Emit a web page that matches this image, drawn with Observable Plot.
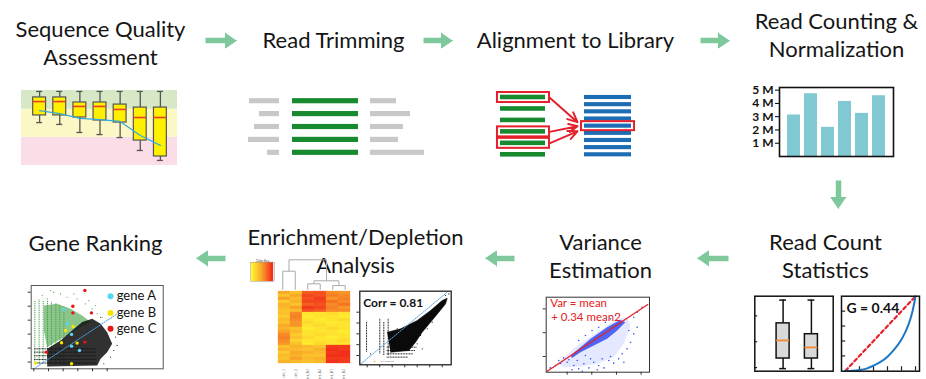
<!DOCTYPE html>
<html><head><meta charset="utf-8">
<script src="https://cdn.jsdelivr.net/npm/d3@7"></script>
<script src="https://cdn.jsdelivr.net/npm/@observablehq/plot@0.6"></script>
<style>
body{margin:0;background:#fff;}
#stage{position:relative;width:926px;height:379px;overflow:hidden;background:#fff;}
.panel{position:absolute;}
.panel svg{background:transparent !important;overflow:visible;}
</style></head><body><div id="stage"></div>
<script>
// ================= DATA =================
const steps = ["Sequence Quality\nAssessment","Read Trimming","Alignment to Library","Read Counting &\nNormalization","Read Count\nStatistics","Variance\nEstimation","Enrichment/Depletion\nAnalysis","Gene Ranking"];
const flow = [[0,1],[1,2],[2,3],[3,4],[4,5],[5,6],[6,7]];

// Sequence quality (Phred) per read-position bin
const qcPositions = [1,2,3,4,5,6,7];
const qcLow    = [22.9,21.9,17.6,16.5,14.9,8.0,2.7];
const qcQ1     = [26.7,26.7,25.6,24.0,22.9,13.3,4.8];
const qcMedian = [34.1,34.1,31.5,31.5,29.9,25.6,25.6];
const qcQ3     = [36.3,36.3,33.6,33.6,32.5,30.9,30.9];
const qcHigh   = [39.5,39.5,39.5,39.5,39.5,39.5,39.5];
const qcMean   = [29.3,27.7,25.1,24.5,23.5,16.0,10.7];
const qcBandLimits = [0,15,30,40];

// Read trimming (bases)
const trimLeft  = [30,20,25,31,12];
const trimRight = [26,40,33,28,54];
const coreLength = 66;

// Alignment
const readCount = 6, libraryCount = 9;
const alignedReads = [0,3,4];
const alignedTarget = 4;

// Read counts per sample
const samples = ["S1","S2","S3","S4","S5","S6"];
const sampleReads = [3.13e6,4.73e6,2.2e6,4.15e6,3.25e6,4.58e6];
const countTicks = [1e6,2e6,3e6,4e6,5e6];

// Read count statistics boxplots
const statGroups = [1,2];
const statLow = [-0.04,-0.04], statQ1 = [0.35,0.35], statMedian = [1.05,0.78], statQ3 = [1.71,1.29], statHigh = [2.61,2.61];
const statTicks = [0,1,2];

// Lorenz curve
const lorenzX = [0,0.1,0.2,0.3,0.4,0.5,0.6,0.7,0.8,0.9,0.95,1];
const lorenzY = [0,0.0,0.01,0.03,0.07,0.12,0.19,0.29,0.42,0.62,0.77,1];
const gini = 0.44;

// Variance estimation (log10 mean vs log10 variance)
const varFit = [[0.19,0.38],[4.27,3.18]];
const varDense = [[1.14,1.04],[1.95,1.74],[2.62,2.23],[3.16,2.54],[3.36,2.44],[3.03,2.09],[2.62,1.74],[2.08,1.46],[1.54,1.18],[1.2,0.94]];
const varHalo = [[0.59,0.69],[1.41,1.46],[2.22,2.02],[3.03,2.58],[3.43,2.65],[3.57,2.3],[3.3,1.53],[2.89,0.97],[2.22,0.69],[1.54,0.58],[0.86,0.55]];
const varPoints = [[0.32,0.52],[0.53,0.62],[0.73,0.72],[1.0,0.76],[1.27,0.62],[1.47,0.48],[1.68,0.69],[1.88,0.52],[2.08,0.76],[2.28,0.62],[2.49,0.52],[2.69,0.83],[2.89,0.72],[3.09,0.9],[3.23,1.11],[3.43,1.32],[3.57,1.6],[3.7,1.95],[3.5,2.09],[3.84,2.23],[3.3,0.76],[2.76,1.0],[2.42,0.9],[1.95,0.9],[1.74,1.04],[1.41,0.83],[1.07,0.86],[0.86,0.94],[0.66,0.83],[2.22,0.44],[1.61,0.38],[1.2,0.44],[4.04,3.07],[3.84,2.86],[3.7,2.65],[2.96,2.72],[2.76,2.58],[2.55,2.44],[2.28,2.23],[2.01,2.09],[1.74,1.88],[1.47,1.67]];
const varTextLines = ["Var = mean","+ 0.34 mean2"];

// Enrichment heatmap (6 samples x 24 genes)
const heatSamples = ["ctrl_1","ctrl_2","trt_A1","trt_A2","trt_B1","trt_B2"];
const heatMatrix = [
 [0.45,0.3,0.8,0.85,0.6,0.55],[0.3,0.45,0.9,0.85,0.65,0.6],[0.5,0.35,0.85,0.95,0.55,0.65],[0.25,0.4,0.9,0.9,0.7,0.6],
 [0.4,0.3,0.8,0.85,0.6,0.7],[0.35,0.5,0.95,0.9,0.65,0.55],[0.3,0.35,0.85,0.8,0.6,0.6],
 [0.3,0.6,0.1,0.1,0.15,0.1],[0.25,0.65,0.05,0.1,0.1,0.05],[0.35,0.6,0.1,0.05,0.1,0.15],[0.3,0.55,0.15,0.1,0.05,0.1],
 [0.45,0.55,0.1,0.15,0.1,0.1],[0.4,0.3,0.05,0.1,0.15,0.1],[0.5,0.35,0.1,0.1,0.1,0.05],
 [0.6,0.25,0.1,0.15,0.1,0.1],[0.65,0.3,0.15,0.1,0.05,0.1],[0.6,0.2,0.1,0.1,0.1,0.15],[0.55,0.3,0.05,0.15,0.1,0.1],
 [0.3,0.4,0.35,0.3,0.95,0.95],[0.4,0.35,0.3,0.4,1,0.95],[0.25,0.45,0.4,0.35,0.95,1],[0.35,0.4,0.3,0.3,1,1],
 [0.3,0.5,0.35,0.4,0.95,0.95],[0.4,0.35,0.3,0.35,1,0.95]];
const keyValues = [0,0.1,0.2,0.3,0.4,0.5,0.6,0.7,0.8,0.9,1];
const dendro = {h:1.0, children:[{h:0.62, children:[0,1]}, {h:0.3, children:[{h:0.2, children:[2,3]}, {h:0.14, children:[4,5]}]}]};

// Replicate correlation
const corrValue = 0.81;
const corrDense = [[1.6,2.15],[2.67,2.46],[4.0,3.23],[5.07,4.15],[6.0,5.08],[6.4,5.29],[6.27,4.77],[5.73,4.0],[5.07,3.08],[4.4,2.15],[3.87,1.23],[3.33,0.46],[1.87,0.31]];
const corrColumns = [[-0.05,0.31,3.08],[1.01,0.15,3.38],[1.33,0,3.08],[1.68,0,3.38]]; // x, yLow, yHigh
const corrRows = [[0.77,1.6,4.0],[0.46,1.6,3.9],[0.15,1.6,3.7],[-0.15,1.6,3.3]]; // y, xLow, xHigh
const corrPoints = [[5.6,4.62],[5.87,4.92],[4.8,3.54],[4.27,3.38],[3.73,2.77],[3.33,2.31],[2.93,2.15],[2.4,2.46],[2.0,2.0],[5.2,3.08],[4.8,2.46],[4.27,1.85],[4.0,1.08],[4.4,0.62],[5.73,4.15],[6.27,5.54],[6.53,5.69],[0.27,0.15],[2.27,0.62]];
const corrDiag = [[-0.53,-0.8],[6.4,5.85]];

// Gene ranking
const geneNames = ["gene A","gene B","gene C"];
const genePoints = [
 [[2.05,3.76],[2.27,2.74],[2.57,1.98],[2.57,1.14],[3.11,0.83]],
 [[2.16,2.26],[2.68,2.55],[1.89,1.38],[2.95,1.36],[2.57,-0.12],[0.11,-0.07]],
 [[3.48,5.12],[2.66,4.0],[2.66,3.52],[3.93,3.52],[3.48,1.43],[0.84,0.71]]];
const rankGreenStripes = [[0.07,4.4],[0.36,4.45],[0.64,4.36],[0.93,4.4],[1.2,4.29],[1.5,4.17],[1.77,4.05],[2.05,3.93]];
const rankGreenDense = [[0.68,4.05],[1.59,4.17],[2.5,3.81],[3.3,3.33],[3.86,2.86],[3.18,2.5],[2.27,1.9],[1.48,1.43],[0.91,1.07],[0.68,2.26]];
const rankBlackDense = [[0.91,0.95],[1.82,1.55],[2.61,2.26],[3.3,2.86],[3.98,3.1],[4.55,2.74],[5.0,2.14],[5.34,1.31],[5.0,0.71],[4.55,0.24],[4.32,-0.24],[0.91,-0.31]];
const rankBlackStripes = [0.95,0.71,0.45,0.19,-0.07];
const rankGreenSparse = [[1.14,5.12],[0.57,4.76],[1.82,4.88],[2.27,4.64],[2.95,4.52],[3.52,4.17],[3.98,3.81],[4.32,3.45],[4.66,3.21],[0.91,4.52],[1.36,5.0],[2.73,4.88],[3.75,4.4],[4.2,4.05]];
const rankBlackSparse = [[5.45,0.83],[5.57,1.79],[5.23,0.36],[4.77,-0.12],[5.68,1.19],[5.11,2.5],[4.55,3.21]];
const rankDiag = [[0,-0.48],[5.68,3.45]];

// ================= LAYOUT & STYLE =================
const FONT = "Lato, 'Open Sans', sans-serif";
const GREEN = "#7ec89b";
const L = {
  titles: [[100,64],[333,47],[575,47],[836,56],[825,277],[600,277],[355,272],[95,250]],
  arrows: [[205,40,236,40],[423,40,452,40],[700,40,729,40],[838,180,838,208],[728,258,697,258],[514,258,485,258],[225,258,196,258]],
};
const stage = document.getElementById("stage");
function place(plot, left, top) {
  const d = document.createElement("div");
  d.className = "panel";
  d.style.left = left + "px"; d.style.top = top + "px";
  d.style.width = plot.getAttribute("width") + "px";
  d.appendChild(plot); stage.appendChild(d);
}
const baseStyle = {background:"transparent", overflow:"visible", fontFamily: FONT};

// ================= BACKGROUND: titles and flow arrows =================
const titleRows = steps.map((t,i)=>({text:t, x:L.titles[i][0], y:L.titles[i][1]}));
const shafts = [], heads = [];
flow.forEach((f,i)=>{
  const [x1,y1,x2,y2] = L.arrows[i];
  const len = Math.hypot(x2-x1,y2-y1), ux=(x2-x1)/len, uy=(y2-y1)/len;
  const hl = 11, hw = 7.5;
  const bx = x2-ux*hl, by = y2-uy*hl;
  shafts.push({x1, y1, x2: bx+ux, y2: by+uy});
  heads.push({id:i, x:x2, y:y2}, {id:i, x:bx-uy*hw, y:by+ux*hw}, {id:i, x:bx+uy*hw, y:by-ux*hw});
});
place(Plot.plot({
  width:926, height:379, margin:0, style: baseStyle,
  x:{domain:[0,926], range:[0,926], axis:null},
  y:{domain:[0,379], range:[0,379], axis:null},
  marks:[
    Plot.link(shafts,{x1:"x1",y1:"y1",x2:"x2",y2:"y2",stroke:GREEN,strokeWidth:5.5,strokeLinecap:"butt"}),
    Plot.line(heads,{x:"x",y:"y",z:"id",fill:GREEN,stroke:GREEN,strokeWidth:1}),
    Plot.text(titleRows,{x:"x",y:"y",text:"text",fontSize:22,lineHeight:1.273,lineAnchor:"bottom",fill:"#151515",fontFamily:FONT})
  ]
}), 0, 0);

// ================= Panel: sequence quality =================
const qcRows = qcPositions.map((p,i)=>({pos:p, low:qcLow[i], q1:qcQ1[i], med:qcMedian[i], q3:qcQ3[i], high:qcHigh[i], mean:qcMean[i]}));
const qcX = [0.1,7.85];
const bandFills = ["#fbdde8","#fcf8c6","#d6e8c5"];
const qcBands = bandFills.map((f,i)=>({y1:qcBandLimits[i], y2:qcBandLimits[i+1], f}));
const bw = 0.32, cap = 0.15;
place(Plot.plot({
  width:162, height:81, marginLeft:3, marginRight:3, marginTop:4, marginBottom:2, style:baseStyle,
  x:{domain:qcX, axis:null}, y:{domain:[0,40], axis:null},
  marks:[
    ...qcBands.map(b=>Plot.rect([b],{x1:qcX[0],x2:qcX[1],y1:"y1",y2:"y2",fill:b.f})),
    Plot.ruleX(qcRows,{x:"pos",y1:"q3",y2:"high",stroke:"#555",strokeWidth:1.3}),
    Plot.ruleX(qcRows,{x:"pos",y1:"low",y2:"q1",stroke:"#555",strokeWidth:1.3}),
    Plot.ruleY(qcRows,{y:"high",x1:d=>d.pos-cap,x2:d=>d.pos+cap,stroke:"#555",strokeWidth:1.3}),
    Plot.ruleY(qcRows,{y:"low",x1:d=>d.pos-cap,x2:d=>d.pos+cap,stroke:"#555",strokeWidth:1.3}),
    Plot.rect(qcRows,{x1:d=>d.pos-bw,x2:d=>d.pos+bw,y1:"q1",y2:"q3",fill:"#fff000",stroke:"#555",strokeWidth:1.2}),
    Plot.ruleY(qcRows,{y:"med",x1:d=>d.pos-bw,x2:d=>d.pos+bw,stroke:"#e8402a",strokeWidth:1.6}),
    Plot.line(qcRows,{x:"pos",y:"mean",stroke:"#3aa8dc",strokeWidth:1.3})
  ]
}), 18, 86);

// ================= Panel: read trimming =================
const trimRows = trimLeft.map((l,i)=>({i, l, r:trimRight[i]}));
const gapL = 13, gapR = 12, rh = 0.2;
place(Plot.plot({
  width:195, height:68, margin:0, marginTop:8.7, marginBottom:7.7, style:baseStyle,
  x:{domain:[-52,143], axis:null}, y:{domain:[0,4], reverse:true, axis:null},
  marks:[
    Plot.rect(trimRows,{x1:d=>-gapL-d.l,x2:-gapL,y1:d=>d.i-rh,y2:d=>d.i+rh,fill:"#c8c8c8"}),
    Plot.rect(trimRows,{x1:0,x2:coreLength,y1:d=>d.i-rh,y2:d=>d.i+rh,fill:"#178a30"}),
    Plot.rect(trimRows,{x1:coreLength+gapR,x2:d=>coreLength+gapR+d.r,y1:d=>d.i-rh,y2:d=>d.i+rh,fill:"#c8c8c8"})
  ]
}), 240, 92);

// ================= Panel: alignment =================
const reads = d3.range(readCount).map(i=>({i, y:i/(readCount-1)}));
const lib = d3.range(libraryCount).map(j=>({j, y:j/(libraryCount-1)}));
const fan = [-0.07, 0.0, 0.09];
const aligns = alignedReads.map((r,k)=>({y1:r/(readCount-1), y2:alignedTarget/(libraryCount-1)+fan[k]}));
const RED = "#e3202b";
place(Plot.plot({
  width:160, height:78, margin:0, marginTop:12, marginBottom:8.7, style:baseStyle,
  x:{domain:[-0.333,3.222], axis:null}, y:{domain:[0,1], reverse:true, axis:null},
  marks:[
    Plot.rect(reads,{x1:0,x2:1,y1:d=>d.y-0.04,y2:d=>d.y+0.04,fill:"#178a30"}),
    Plot.rect(lib,{x1:1.867,x2:2.911,y1:d=>d.y-0.036,y2:d=>d.y+0.036,fill:"#1d6db5"}),
    Plot.rect(alignedReads.map(r=>({y:r/(readCount-1)})),{x1:-0.067,x2:1.089,y1:d=>d.y-0.087,y2:d=>d.y+0.087,fill:"none",stroke:RED,strokeWidth:2}),
    Plot.rect([{y:alignedTarget/(libraryCount-1)}],{x1:1.8,x2:2.978,y1:d=>d.y-0.079,y2:d=>d.y+0.079,fill:"none",stroke:RED,strokeWidth:2}),
    Plot.arrow(aligns,{x1:1.089,y1:"y1",x2:1.711,y2:"y2",stroke:RED,strokeWidth:2,headLength:8,headAngle:50})
  ]
}), 485, 85);

// ================= Panel: read counts =================
const countRows = samples.map((s,i)=>({s, v:sampleReads[i]}));
place(Plot.plot({
  width:158, height:79, marginLeft:39, marginRight:5, marginTop:5, marginBottom:5, style:baseStyle,
  x:{type:"band", domain:samples, paddingInner:0.22, paddingOuter:0.37, axis:null},
  y:{domain:[0,5.2e6]},
  marks:[
    Plot.barY(countRows,{x:"s",y:"v",fill:"#80c9d2"}),
    Plot.frame({stroke:"#111",strokeWidth:1.6}),
    Plot.axisY({ticks:countTicks, tickFormat:d=>`${d/1e6} M`, tickSize:4, tickPadding:2, fontSize:12, fontWeight:"bold", label:null, fontFamily:FONT, fill:"#111"})
  ]
}), 740, 82);

// ================= Panel: read count statistics (boxplots) =================
const statRows = statGroups.map((g,i)=>({g, low:statLow[i], q1:statQ1[i], med:statMedian[i], q3:statQ3[i], high:statHigh[i]}));
const sX = [0,2.77], sY = [-0.14,2.76];
place(Plot.plot({
  width:87, height:83, marginLeft:4.3, marginRight:4.3, marginTop:3.7, marginBottom:4.3, style:baseStyle,
  x:{domain:sX, axis:null}, y:{domain:sY, axis:null},
  marks:[
    Plot.ruleY(statTicks,{y:d=>d, x1:sX[0], x2:sX[0]+0.1, stroke:"#222", strokeWidth:1.2}),
    Plot.ruleX(statRows,{x:"g",y1:"low",y2:"q1",stroke:"#111",strokeWidth:1.5}),
    Plot.ruleX(statRows,{x:"g",y1:"q3",y2:"high",stroke:"#111",strokeWidth:1.5}),
    Plot.ruleY(statRows,{y:"low",x1:d=>d.g-0.12,x2:d=>d.g+0.12,stroke:"#111",strokeWidth:1.5}),
    Plot.ruleY(statRows,{y:"high",x1:d=>d.g-0.12,x2:d=>d.g+0.12,stroke:"#111",strokeWidth:1.5}),
    Plot.rect(statRows,{x1:d=>d.g-0.23,x2:d=>d.g+0.23,y1:"q1",y2:"q3",fill:"#d9d9d9",stroke:"#111",strokeWidth:1.5}),
    Plot.ruleY(statRows,{y:"med",x1:d=>d.g-0.23,x2:d=>d.g+0.23,stroke:"#f08a30",strokeWidth:1.8}),
    Plot.frame({stroke:"#111",strokeWidth:1.5})
  ]
}), 750, 292);

// ================= Panel: Lorenz curve =================
const lorenz = lorenzX.map((x,i)=>({x, y:lorenzY[i]}));
const lX = [-0.057,1.057], lY = [-0.005,1.0];
place(Plot.plot({
  width:86, height:83, marginLeft:4, marginRight:4, marginTop:3.7, marginBottom:4.3, style:baseStyle,
  x:{domain:lX, axis:null}, y:{domain:lY, axis:null},
  marks:[
    Plot.ruleY([0.2,0.4,0.6,0.8],{y:d=>d, x1:lX[0], x2:lX[0]+0.06, stroke:"#222", strokeWidth:1.2}),
    Plot.ruleX([0.2,0.4,0.6,0.8,1],{x:d=>d, y1:lY[0], y2:lY[0]+0.06, stroke:"#222", strokeWidth:1.2}),
    Plot.line([[0,0],[1,1]],{stroke:"#e8202a",strokeWidth:2.2,strokeDasharray:"3.5,3"}),
    Plot.line(lorenz,{x:"x",y:"y",stroke:"#1f77c4",strokeWidth:2,curve:"catmull-rom"}),
    Plot.text([`G = ${gini}`],{frameAnchor:"top-left",dx:5,dy:7,lineAnchor:"top",fontSize:14,fontWeight:"bold",fill:"#111",fontFamily:FONT}),
    Plot.frame({stroke:"#111",strokeWidth:1.5})
  ]
}), 837, 292);

// ================= Panel: variance estimation =================
place(Plot.plot({
  width:115, height:84, marginLeft:7.7, marginRight:4, marginTop:4.7, marginBottom:4.3, style:baseStyle,
  x:{domain:[0.15,4.34]}, y:{domain:[0.34,3.49]},
  marks:[
    Plot.line(varHalo,{fill:"#8a9cff",fillOpacity:0.22,stroke:"none"}),
    Plot.line(varDense,{fill:"#2a44f0",fillOpacity:0.8,stroke:"none"}),
    Plot.dot(varPoints,{r:0.8,fill:"#3350ff",stroke:"none"}),
    Plot.line(varFit,{stroke:"#e82020",strokeWidth:1.3}),
    Plot.text([varTextLines[0]],{frameAnchor:"top-left",dx:4,dy:2,lineAnchor:"top",fontSize:11.5,fill:"#e82020",fontFamily:FONT}),
    Plot.text([varTextLines[1]],{frameAnchor:"top-left",dx:5,dy:16,lineAnchor:"top",fontSize:11.5,fill:"#e82020",fontFamily:FONT}),
    Plot.frame({stroke:"#333",strokeWidth:1}),
    Plot.axisX({ticks:[1,2,3,4],tickSize:3,tickFormat:()=>"",label:null,stroke:"#333"}),
    Plot.axisY({ticks:[1,2,3],tickSize:3,tickFormat:()=>"",label:null,stroke:"#333"})
  ]
}), 538, 292);

// ================= Panel: heatmap + dendrogram + key =================
const heatColor = {type:"linear", domain:[0,0.5,1], range:["#fff430","#f9a12a","#f2301b"]};
const heatRows = heatMatrix.flatMap((r,i)=>r.map((v,j)=>({row:i, s:heatSamples[j], v})));
place(Plot.plot({
  width:75, height:90, margin:0, marginBottom:13.6, style:baseStyle,
  x:{type:"band", domain:heatSamples, padding:0, axis:null},
  y:{type:"band", domain:d3.range(heatMatrix.length), padding:0, axis:null},
  color:heatColor,
  marks:[
    Plot.cell(heatRows,{x:"s",y:"row",fill:"v",stroke:"v",strokeWidth:0.3,inset:0}),
    Plot.text(heatSamples,{x:d=>d,frameAnchor:"bottom",dy:3,rotate:-90,textAnchor:"end",fontSize:3.6,fill:"#777",fontFamily:FONT})
  ]
}), 276, 289.3);

const dSegs = [];
function walk(n){
  if (typeof n === "number") return {x:n+0.5, h:0};
  const kids = n.children.map(walk);
  kids.forEach(k=>dSegs.push({x1:k.x,y1:k.h,x2:k.x,y2:n.h}));
  dSegs.push({x1:kids[0].x,y1:n.h,x2:kids[kids.length-1].x,y2:n.h});
  return {x:d3.mean(kids,k=>k.x), h:n.h};
}
walk(dendro);
place(Plot.plot({
  width:75, height:33.3, margin:0, marginTop:3.3, style:baseStyle,
  x:{domain:[0,heatSamples.length], axis:null}, y:{domain:[0,1], axis:null},
  marks:[Plot.link(dSegs,{x1:"x1",y1:"y1",x2:"x2",y2:"y2",stroke:"#aaa",strokeWidth:1})]
}), 276, 256);

place(Plot.plot({
  width:26, height:26, margin:0, marginTop:4, marginBottom:3, marginLeft:1, marginRight:1, style:baseStyle,
  x:{type:"band", domain:keyValues, padding:0, axis:null},
  color:heatColor,
  marks:[
    Plot.cell(keyValues,{x:d=>d, fill:d=>d, stroke:d=>d, strokeWidth:0.3, inset:0}),
    Plot.frame({stroke:"#999",strokeWidth:0.5}),
    Plot.text(["Color Key"],{frameAnchor:"top",dy:-0.5,fontSize:3,fill:"#444",lineAnchor:"bottom",fontFamily:FONT})
  ]
}), 249, 258);

// ================= Panel: correlation =================
place(Plot.plot({
  width:102, height:83, marginLeft:7.3, marginRight:3.3, marginTop:4.7, marginBottom:4.7, style:baseStyle,
  x:{domain:[-0.59,6.72]}, y:{domain:[-0.86,5.94]},
  marks:[
    Plot.ruleX(corrColumns,{x:d=>d[0],y1:d=>d[1],y2:d=>d[2],stroke:"#111",strokeWidth:1,strokeDasharray:"1,0.6"}),
    Plot.ruleY(corrRows,{y:d=>d[0],x1:d=>d[1],x2:d=>d[2],stroke:"#111",strokeWidth:1,strokeDasharray:"1,0.6"}),
    Plot.line(corrDense,{fill:"#0a0a0a",stroke:"#0a0a0a",strokeWidth:0.6}),
    Plot.dot(corrPoints,{r:0.6,fill:"#111",stroke:"none"}),
    Plot.line(corrDiag,{stroke:"#5aa8e0",strokeWidth:1,strokeDasharray:"1.5,1.2"}),
    Plot.dot([[0.6,-0.55]],{r:0.8,fill:"#f0a030",stroke:"none"}),
    Plot.text(["n.s. samples"],{x:1.6,y:-0.55,fontSize:2.6,fill:"#777",fontFamily:FONT}),
    Plot.text([`Corr = ${corrValue}`],{frameAnchor:"top-left",dx:3.4,dy:7,lineAnchor:"top",fontSize:12,fontWeight:"bold",fill:"#111",fontFamily:FONT}),
    Plot.frame({stroke:"#222",strokeWidth:1.3}),
    Plot.axisX({ticks:[0,1,2,3,4,5,6],tickSize:3,tickFormat:()=>"",label:null,stroke:"#333"}),
    Plot.axisY({ticks:[0,1,2,3,4],tickSize:3,tickFormat:()=>"",label:null,stroke:"#333"})
  ]
}), 352, 286);

// ================= Panel: gene ranking =================
const geneColors = ["#55d6f2","#f7e400","#e8151b"];
const geneRows = genePoints.flatMap((pts,g)=>pts.map(p=>({x:p[0],y:p[1],g})));
const legendX = 5.23, legendTextX = 5.65, legendY = [4.71,3.52,2.38];
const legendRows = geneNames.map((n,g)=>({n,g,y:legendY[g]}));
place(Plot.plot({
  width:143, height:92, marginLeft:6.7, marginRight:4.3, marginTop:5, marginBottom:3.7, style:baseStyle,
  x:{domain:[-0.18,8.82]}, y:{domain:[-0.48,5.48]},
  marks:[
    Plot.ruleX(rankGreenStripes,{x:d=>d[0],y1:-0.12,y2:d=>d[1],stroke:"#3d9c3d",strokeWidth:1,strokeDasharray:"1,0.8"}),
    Plot.line(rankGreenDense,{fill:"#3f9e3f",fillOpacity:0.6,stroke:"none"}),
    Plot.dot(rankGreenSparse,{r:0.6,fill:"#4aa24a",stroke:"none"}),
    Plot.line(rankBlackDense,{fill:"#0d0d0d",fillOpacity:0.85,stroke:"none"}),
    Plot.ruleY(rankBlackStripes,{y:d=>d,x1:0.05,x2:4.3,stroke:"#111",strokeWidth:1,strokeDasharray:"1,0.6"}),
    Plot.dot(rankBlackSparse,{r:0.6,fill:"#222",stroke:"none"}),
    Plot.line(rankDiag,{stroke:"#4aa0e8",strokeWidth:1,strokeDasharray:"1.5,1.2"}),
    Plot.dot(geneRows,{x:"x",y:"y",r:1.7,fill:d=>geneColors[d.g],stroke:"none"}),
    Plot.dot(legendRows,{x:legendX,y:"y",r:3,fill:d=>geneColors[d.g],stroke:"none"}),
    Plot.text(legendRows,{x:legendTextX,y:"y",text:"n",textAnchor:"start",fontSize:13,fill:"#111",fontFamily:FONT}),
    Plot.frame({stroke:"#555",strokeWidth:1}),
    Plot.axisX({ticks:[0,1,2,3,4,5],tickSize:3,tickFormat:()=>"",label:null,stroke:"#333"}),
    Plot.axisY({ticks:[0,1,2,3,4,5],tickSize:3,tickFormat:()=>"",label:null,stroke:"#333"})
  ]
}), 24, 280);
</script></body></html>
